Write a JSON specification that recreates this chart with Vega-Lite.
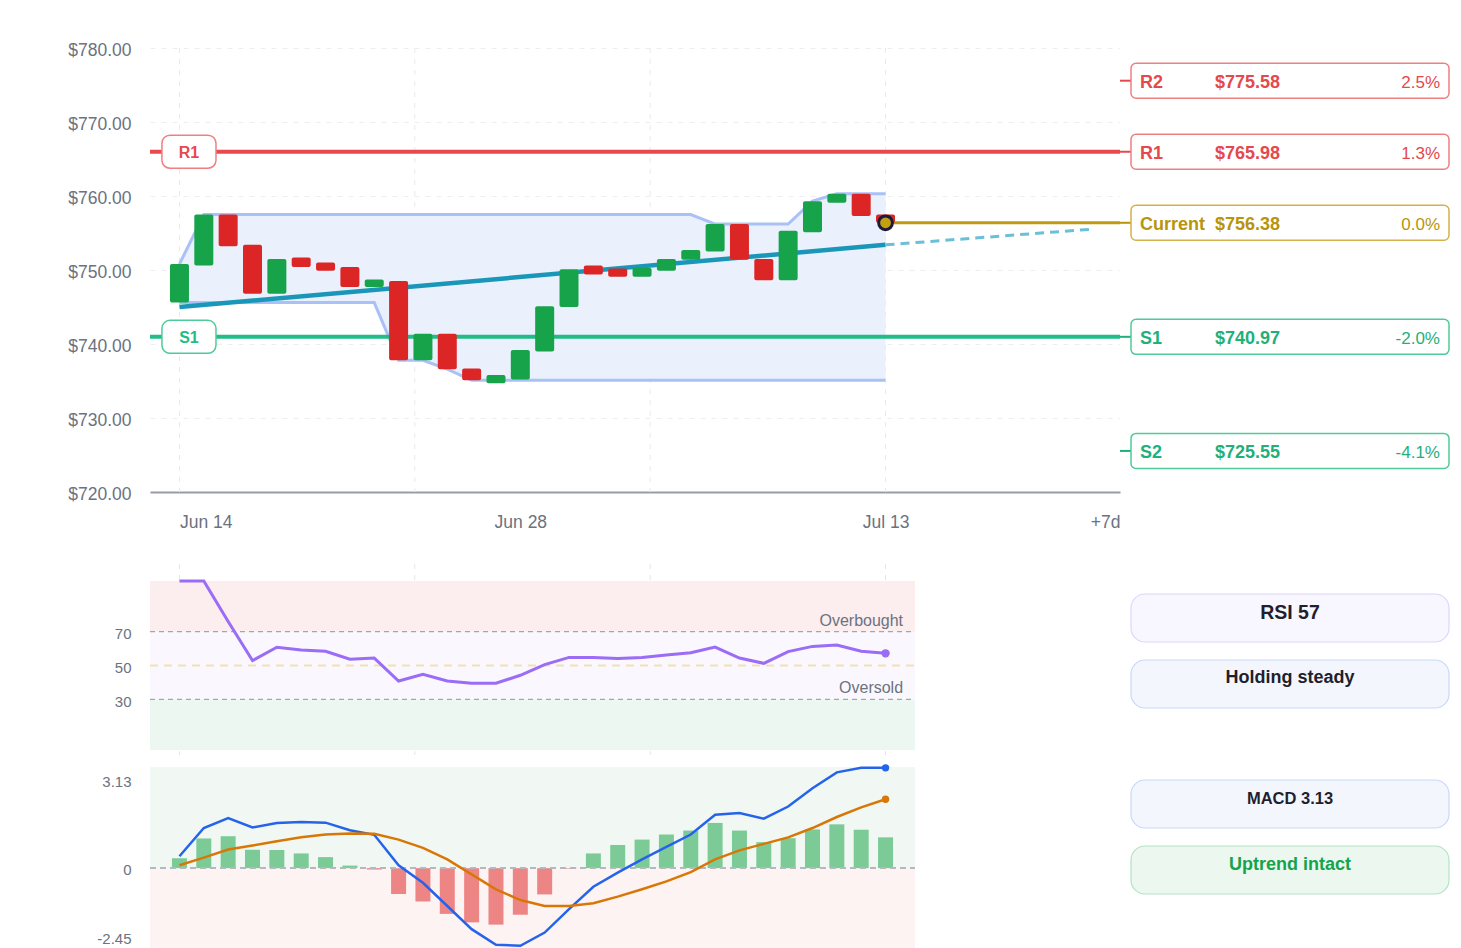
{
  "$schema": "https://vega.github.io/schema/vega-lite/v6.json",
  "padding": {"left": 67, "top": 41, "right": 0, "bottom": 0},
  "config": {
    "font": "Liberation Sans",
    "view": {"stroke": null},
    "scale": {"continuousPadding": 0},
    "axis": {"labelColor": "#6b7280", "labelFont": "Liberation Sans", "domain": false, "ticks": false, "grid": false, "labelFlush": false}
  },
  "datasets": {
    "days": [
      {"day":0,"open":745.6,"close":750.8,"upper":750.8,"lower":745.6,"rsi":100,"macd":0.42,"signal":0.10,"hist":0.35},
      {"day":1,"open":750.6,"close":757.5,"upper":757.5,"lower":745.6,"rsi":100,"macd":1.42,"signal":0.37,"hist":1.05},
      {"day":2,"open":757.5,"close":753.2,"upper":757.5,"lower":745.6,"rsi":76,"macd":1.77,"signal":0.66,"hist":1.13},
      {"day":3,"open":753.4,"close":746.8,"upper":757.5,"lower":745.6,"rsi":52.9,"macd":1.44,"signal":0.80,"hist":0.65},
      {"day":4,"open":746.8,"close":751.5,"upper":757.5,"lower":745.6,"rsi":60.8,"macd":1.60,"signal":0.95,"hist":0.64},
      {"day":5,"open":751.7,"close":750.4,"upper":757.5,"lower":745.6,"rsi":59.2,"macd":1.63,"signal":1.09,"hist":0.52},
      {"day":6,"open":751.0,"close":749.9,"upper":757.5,"lower":745.6,"rsi":58.4,"macd":1.61,"signal":1.19,"hist":0.39},
      {"day":7,"open":750.4,"close":747.7,"upper":757.5,"lower":745.6,"rsi":53.7,"macd":1.34,"signal":1.23,"hist":0.09},
      {"day":8,"open":747.7,"close":748.7,"upper":757.5,"lower":745.6,"rsi":54.4,"macd":1.18,"signal":1.22,"hist":-0.05},
      {"day":9,"open":748.5,"close":737.8,"upper":757.5,"lower":737.8,"rsi":40.8,"macd":0.10,"signal":1.01,"hist":-0.92},
      {"day":10,"open":737.8,"close":741.4,"upper":757.5,"lower":737.8,"rsi":44.8,"macd":-0.52,"signal":0.72,"hist":-1.18},
      {"day":11,"open":741.4,"close":736.6,"upper":757.5,"lower":736.6,"rsi":40.8,"macd":-1.34,"signal":0.31,"hist":-1.62},
      {"day":12,"open":736.7,"close":735.1,"upper":757.5,"lower":735.1,"rsi":39.5,"macd":-2.16,"signal":-0.22,"hist":-1.92},
      {"day":13,"open":734.7,"close":735.8,"upper":757.5,"lower":735.1,"rsi":39.5,"macd":-2.71,"signal":-0.75,"hist":-2.0},
      {"day":14,"open":735.2,"close":739.2,"upper":757.5,"lower":735.1,"rsi":44.2,"macd":-2.75,"signal":-1.13,"hist":-1.65},
      {"day":15,"open":739.0,"close":745.1,"upper":757.5,"lower":735.1,"rsi":50.5,"macd":-2.28,"signal":-1.34,"hist":-0.93},
      {"day":16,"open":745.0,"close":750.1,"upper":757.5,"lower":735.1,"rsi":54.8,"macd":-1.45,"signal":-1.34,"hist":-0.02},
      {"day":17,"open":750.6,"close":749.4,"upper":757.5,"lower":735.1,"rsi":54.8,"macd":-0.66,"signal":-1.24,"hist":0.52},
      {"day":18,"open":750.2,"close":749.1,"upper":757.5,"lower":735.1,"rsi":54.2,"macd":-0.16,"signal":-1.01,"hist":0.82},
      {"day":19,"open":749.1,"close":750.3,"upper":757.5,"lower":735.1,"rsi":54.8,"macd":0.31,"signal":-0.75,"hist":1.01},
      {"day":20,"open":749.9,"close":751.5,"upper":757.5,"lower":735.1,"rsi":56.2,"macd":0.75,"signal":-0.47,"hist":1.19},
      {"day":21,"open":751.4,"close":752.7,"upper":757.5,"lower":735.1,"rsi":57.6,"macd":1.19,"signal":-0.14,"hist":1.33},
      {"day":22,"open":752.5,"close":756.2,"upper":756.2,"lower":735.1,"rsi":60.9,"macd":1.89,"signal":0.31,"hist":1.60},
      {"day":23,"open":756.2,"close":751.4,"upper":756.2,"lower":735.1,"rsi":54.4,"macd":1.95,"signal":0.63,"hist":1.33},
      {"day":24,"open":751.5,"close":748.6,"upper":756.2,"lower":735.1,"rsi":51.3,"macd":1.75,"signal":0.86,"hist":0.92},
      {"day":25,"open":748.6,"close":755.3,"upper":756.2,"lower":735.1,"rsi":58.2,"macd":2.18,"signal":1.09,"hist":1.06},
      {"day":26,"open":755.1,"close":759.3,"upper":759.3,"lower":735.1,"rsi":61.3,"macd":2.83,"signal":1.42,"hist":1.37},
      {"day":27,"open":759.1,"close":760.3,"upper":760.3,"lower":735.1,"rsi":62.1,"macd":3.39,"signal":1.81,"hist":1.55},
      {"day":28,"open":760.3,"close":757.3,"upper":760.3,"lower":735.1,"rsi":58.4,"macd":3.55,"signal":2.15,"hist":1.36},
      {"day":29,"open":757.5,"close":756.38,"upper":760.3,"lower":735.1,"rsi":57.2,"macd":3.55,"signal":2.44,"hist":1.09}
    ],
    "levels": [
      {"label":"R2","price":775.58,"pct":"2.5%","kind":"resistance"},
      {"label":"R1","price":765.98,"pct":"1.3%","kind":"resistance"},
      {"label":"Current","price":756.38,"pct":"0.0%","kind":"current"},
      {"label":"S1","price":740.97,"pct":"-2.0%","kind":"support"},
      {"label":"S2","price":725.55,"pct":"-4.1%","kind":"support"}
    ],
    "trend": [
      {"day":0,"price":745.0,"seg":"fit"},
      {"day":29,"price":753.4,"seg":"fit"},
      {"day":29,"price":753.4,"seg":"projection"},
      {"day":37.4,"price":755.5,"seg":"projection"}
    ],
    "grid": [{"day":0},{"day":9.667},{"day":19.333},{"day":29}],
    "rsiZones": [
      {"lo":70,"hi":100,"zone":"overbought"},
      {"lo":30,"hi":70,"zone":"neutral"},
      {"lo":0,"hi":30,"zone":"oversold"}
    ],
    "rsiLines": [
      {"v":70,"name":"Overbought","kind":"bound"},
      {"v":50,"name":"Midline","kind":"mid"},
      {"v":30,"name":"Oversold","kind":"bound"}
    ],
    "macdZones": [
      {"lo":0,"hi":3.58,"zone":"positive"},
      {"lo":-3.5,"hi":0,"zone":"negative"}
    ],
    "cards": [
      {"panel":"rsi","text":"RSI 57","role":"value","tone":"violet"},
      {"panel":"rsi","text":"Holding steady","role":"status","tone":"blue"},
      {"panel":"macd","text":"MACD 3.13","role":"value","tone":"blue"},
      {"panel":"macd","text":"Uptrend intact","role":"status","tone":"green"}
    ]
  },
  "columns": 2,
  "bounds": "flush",
  "spacing": {"row": 17, "column": 0},
  "resolve": {"scale": {"color": "independent", "fill": "independent", "stroke": "independent", "size": "independent"}},
  "concat": [
    {
      "width": 970,
      "height": 444,
      "data": {"name": "days"},
      "layer": [
        {
          "data": {"name": "grid"},
          "mark": {"type": "rule", "stroke": "#e8eaee", "strokeDash": [5, 6], "strokeWidth": 1},
          "encoding": {
            "x": {"field": "day", "type": "quantitative", "title": null,
              "scale": {"domain": [-1.21, 38.63], "nice": false, "zero": false},
              "axis": {
                "values": [0, 14, 29, 38.63],
                "labelExpr": "datum.value < 1 ? 'Jun 14' : datum.value < 20 ? 'Jun 28' : datum.value < 30 ? 'Jul 13' : '+7d'",
                "labelAlign": {"condition": [{"test": "datum.value < 1", "value": "left"}, {"test": "datum.value > 35", "value": "right"}], "value": "center"},
                "labelFlush": false,
                "domain": true, "domainColor": "#979ca5", "domainWidth": 2,
                "labelFontSize": 17.5, "labelPadding": 21, "title": null
              }
            }
          }
        },
        {
          "mark": {"type": "area", "color": "#eaf0fc", "opacity": 1},
          "encoding": {
            "x": {"field": "day", "type": "quantitative", "title": null},
            "y": {"field": "upper", "type": "quantitative", "title": null,
              "scale": {"domain": [720, 780], "nice": false, "zero": false},
              "axis": {"values": [720, 730, 740, 750, 760, 770, 780], "format": "$,.2f", "grid": true, "gridDash": [5, 6], "gridColor": "#eceef1", "labelFontSize": 17.5, "labelPadding": 19, "labelOffset": 2, "labelFlush": false, "title": null}
            },
            "y2": {"field": "lower"}
          }
        },
        {
          "mark": {"type": "line", "color": "#a9c1f6", "strokeWidth": 3},
          "encoding": {
            "x": {"field": "day", "type": "quantitative", "title": null},
            "y": {"field": "upper", "type": "quantitative", "title": null}
          }
        },
        {
          "mark": {"type": "line", "color": "#a9c1f6", "strokeWidth": 3},
          "encoding": {
            "x": {"field": "day", "type": "quantitative", "title": null},
            "y": {"field": "lower", "type": "quantitative", "title": null}
          }
        },
        {
          "data": {"name": "levels"},
          "transform": [{"filter": "datum.label == 'R1' || datum.label == 'S1'"}],
          "mark": {"type": "rule", "strokeWidth": 4},
          "encoding": {
            "y": {"field": "price", "type": "quantitative", "title": null},
            "color": {"field": "kind", "type": "nominal", "legend": null,
              "scale": {"domain": ["resistance", "current", "support"], "range": ["#e8494e", "#bf9a12", "#22bd87"]}}
          }
        },
        {
          "data": {"name": "levels"},
          "transform": [{"filter": "datum.label == 'Current'"}],
          "mark": {"type": "rule", "strokeWidth": 3, "color": "#bf9a12"},
          "encoding": {
            "x": {"datum": 29},
            "x2": {"datum": 38.63},
            "y": {"field": "price", "type": "quantitative", "title": null}
          }
        },
        {
          "data": {"name": "trend"},
          "transform": [{"filter": "datum.seg == 'fit'"}],
          "mark": {"type": "line", "color": "#1a97b8", "strokeWidth": 4.5},
          "encoding": {
            "x": {"field": "day", "type": "quantitative", "title": null},
            "y": {"field": "price", "type": "quantitative", "title": null}
          }
        },
        {
          "data": {"name": "trend"},
          "transform": [{"filter": "datum.seg == 'projection'"}],
          "mark": {"type": "line", "color": "#6cbfd8", "strokeWidth": 3, "strokeDash": [9, 6]},
          "encoding": {
            "x": {"field": "day", "type": "quantitative", "title": null},
            "y": {"field": "price", "type": "quantitative", "title": null}
          }
        },
        {
          "mark": {"type": "bar", "orient": "vertical", "size": 19, "cornerRadius": 2},
          "encoding": {
            "x": {"field": "day", "type": "quantitative", "title": null},
            "y": {"field": "open", "type": "quantitative", "title": null},
            "y2": {"field": "close"},
            "color": {"condition": {"test": "datum.close >= datum.open", "value": "#17a34a"}, "value": "#dc2626"}
          }
        },
        {
          "transform": [{"filter": "datum.day == 29"}],
          "mark": {"type": "point", "filled": true, "fill": "#c49f12", "stroke": "#1e1b3a", "strokeWidth": 3, "size": 190, "opacity": 1},
          "encoding": {
            "x": {"field": "day", "type": "quantitative", "title": null},
            "y": {"field": "close", "type": "quantitative", "title": null}
          }
        },
        {
          "data": {"name": "levels"},
          "transform": [{"filter": "datum.label == 'R1' || datum.label == 'S1'"}],
          "mark": {"type": "bar", "orient": "horizontal", "size": 33, "cornerRadius": 8, "fill": "white", "strokeWidth": 1.5},
          "encoding": {
            "x": {"datum": -0.72},
            "x2": {"datum": 1.5},
            "y": {"field": "price", "type": "quantitative", "title": null},
            "stroke": {"field": "kind", "type": "nominal", "legend": null,
              "scale": {"domain": ["resistance", "current", "support"], "range": ["#f07f82", "#d4b24a", "#4fcb9a"]}}
          }
        },
        {
          "data": {"name": "levels"},
          "transform": [{"filter": "datum.label == 'R1' || datum.label == 'S1'"}],
          "mark": {"type": "text", "fontWeight": "bold", "fontSize": 16, "align": "center", "baseline": "middle", "dy": 1.5},
          "encoding": {
            "x": {"datum": 0.39},
            "y": {"field": "price", "type": "quantitative", "title": null},
            "text": {"field": "label"},
            "color": {"field": "kind", "type": "nominal", "legend": null}
          }
        }
      ]
    },
    {
      "width": 330,
      "height": 444,
      "data": {"name": "levels"},
      "layer": [
        {
          "mark": {"type": "rule", "strokeWidth": 2},
          "encoding": {
            "x": {"datum": -10, "scale": {"domain": [-10, 320], "nice": false, "zero": false}, "axis": null},
            "x2": {"datum": 1},
            "y": {"field": "price", "type": "quantitative", "scale": {"domain": [720, 780], "nice": false, "zero": false}, "axis": null},
            "color": {"field": "kind", "type": "nominal", "legend": null,
              "scale": {"domain": ["resistance", "current", "support"], "range": ["#e5484d", "#b8940c", "#1fb07b"]}}
          }
        },
        {
          "mark": {"type": "bar", "orient": "horizontal", "size": 35, "cornerRadius": 5, "fill": "white", "strokeWidth": 1.5},
          "encoding": {
            "x": {"datum": 1},
            "x2": {"datum": 319},
            "y": {"field": "price", "type": "quantitative"},
            "stroke": {"field": "kind", "type": "nominal", "legend": null,
              "scale": {"domain": ["resistance", "current", "support"], "range": ["#f07f82", "#d4b24a", "#4fcb9a"]}}
          }
        },
        {
          "mark": {"type": "text", "align": "left", "baseline": "middle", "fontWeight": "bold", "fontSize": 18, "dy": 2},
          "encoding": {
            "x": {"datum": 10},
            "y": {"field": "price", "type": "quantitative"},
            "text": {"field": "label"},
            "color": {"field": "kind", "type": "nominal", "legend": null}
          }
        },
        {
          "mark": {"type": "text", "align": "left", "baseline": "middle", "fontWeight": "bold", "fontSize": 18, "dy": 2},
          "encoding": {
            "x": {"datum": 85},
            "y": {"field": "price", "type": "quantitative"},
            "text": {"field": "price", "type": "quantitative", "format": "$,.2f"},
            "color": {"field": "kind", "type": "nominal", "legend": null}
          }
        },
        {
          "mark": {"type": "text", "align": "right", "baseline": "middle", "fontSize": 17, "dy": 2},
          "encoding": {
            "x": {"datum": 310},
            "y": {"field": "price", "type": "quantitative"},
            "text": {"field": "pct"},
            "color": {"field": "kind", "type": "nominal", "legend": null}
          }
        }
      ]
    },
    {
      "width": 765,
      "height": 241,
      "data": {"name": "days"},
      "layer": [
        {
          "data": {"name": "grid"},
          "mark": {"type": "rule", "stroke": "#e3e6eb", "strokeDash": [5, 6], "strokeWidth": 1},
          "encoding": {
            "x": {"field": "day", "type": "quantitative", "scale": {"domain": [-1.21, 30.21], "nice": false, "zero": false}, "axis": null},
            "y": {"datum": 110, "scale": {"domain": [0, 142.6], "nice": false, "zero": false},
              "axis": {"values": [30, 50, 70], "labelFontSize": 15, "labelPadding": 19, "labelOffset": 2, "title": null}},
            "y2": {"datum": -3}
          }
        },
        {
          "data": {"name": "rsiZones"},
          "mark": {"type": "rect"},
          "encoding": {
            "x": {"datum": -1.21},
            "x2": {"datum": 30.21},
            "y": {"field": "lo", "type": "quantitative", "title": null},
            "y2": {"field": "hi"},
            "fill": {"field": "zone", "type": "nominal", "legend": null,
              "scale": {"domain": ["overbought", "neutral", "oversold"], "range": ["#fcedee", "#faf8fe", "#edf7f1"]}}
          }
        },
        {
          "data": {"name": "rsiLines"},
          "transform": [{"filter": "datum.kind == 'mid'"}],
          "mark": {"type": "rule", "stroke": "#efe1b6", "strokeDash": [8, 6], "strokeWidth": 2},
          "encoding": {
            "x": {"datum": -1.21},
            "x2": {"datum": 30.21},
            "y": {"field": "v", "type": "quantitative", "title": null}
          }
        },
        {
          "data": {"name": "rsiLines"},
          "transform": [{"filter": "datum.kind == 'bound'"}],
          "mark": {"type": "rule", "stroke": "#a3a6ad", "strokeDash": [5, 4], "strokeWidth": 1.3},
          "encoding": {
            "x": {"datum": -1.21},
            "x2": {"datum": 30.21},
            "y": {"field": "v", "type": "quantitative", "title": null}
          }
        },
        {
          "data": {"name": "rsiLines"},
          "transform": [{"filter": "datum.kind == 'bound'"}],
          "mark": {"type": "text", "align": "right", "baseline": "middle", "fontSize": 16, "color": "#6b7280", "dy": -11},
          "encoding": {
            "x": {"datum": 29.72},
            "y": {"field": "v", "type": "quantitative", "title": null},
            "text": {"field": "name"}
          }
        },
        {
          "mark": {"type": "line", "color": "#9b6cf5", "strokeWidth": 3},
          "encoding": {
            "x": {"field": "day", "type": "quantitative"},
            "y": {"field": "rsi", "type": "quantitative", "title": null}
          }
        },
        {
          "transform": [{"filter": "datum.day == 29"}],
          "mark": {"type": "point", "filled": true, "color": "#9b6cf5", "size": 70, "opacity": 1},
          "encoding": {
            "x": {"field": "day", "type": "quantitative"},
            "y": {"field": "rsi", "type": "quantitative", "title": null}
          }
        }
      ]
    },
    {
      "width": 330,
      "height": 241,
      "data": {"name": "cards"},
      "transform": [{"filter": "datum.panel == 'rsi'"}],
      "layer": [
        {
          "mark": {"type": "bar", "orient": "horizontal", "cornerRadius": 14, "strokeWidth": 1.2},
          "encoding": {
            "x": {"datum": 1, "scale": {"domain": [-10, 320], "nice": false, "zero": false}, "axis": null},
            "x2": {"datum": 319},
            "y": {"field": "text", "type": "nominal", "sort": null, "axis": null,
              "scale": {"range": [85, 199], "paddingInner": 0.2727, "paddingOuter": 0}},
            "fill": {"field": "tone", "type": "nominal", "legend": null,
              "scale": {"domain": ["violet", "blue", "green"], "range": ["#f8f6fe", "#f3f6fd", "#ecf7f0"]}},
            "stroke": {"field": "tone", "type": "nominal", "legend": null,
              "scale": {"domain": ["violet", "blue", "green"], "range": ["#ddd6fe", "#c9d8fb", "#b3e3c5"]}}
          }
        },
        {
          "mark": {"type": "text", "align": "center", "baseline": "middle", "fontWeight": "bold", "dy": -5.5},
          "encoding": {
            "x": {"datum": 160},
            "y": {"field": "text", "type": "nominal", "sort": null},
            "text": {"field": "text"},
            "size": {"condition": {"test": "datum.role == 'value'", "value": 19.5}, "value": 18},
            "color": {"field": "tone", "type": "nominal", "legend": null,
              "scale": {"domain": ["violet", "blue", "green"], "range": ["#1f1f2e", "#1f1f2e", "#16a34a"]}}
          }
        }
      ]
    },
    {
      "width": 765,
      "height": 200,
      "data": {"name": "days"},
      "layer": [
        {
          "data": {"name": "macdZones"},
          "mark": {"type": "rect"},
          "encoding": {
            "x": {"datum": -1.21, "scale": {"domain": [-1.21, 30.21], "nice": false, "zero": false}, "axis": null},
            "x2": {"datum": 30.21},
            "y": {"field": "lo", "type": "quantitative", "title": null,
              "scale": {"domain": [-3.5, 3.58], "nice": false, "zero": false},
              "axis": {"values": [-2.45, 0, 3.13], "labelExpr": "replace(format(datum.value, '.2~f'), '\u2212', '-')", "labelFontSize": 15, "labelPadding": 19, "labelOffset": 1.5, "title": null}},
            "y2": {"field": "hi"},
            "fill": {"field": "zone", "type": "nominal", "legend": null,
              "scale": {"domain": ["positive", "negative"], "range": ["#f1f8f4", "#fdf3f3"]}}
          }
        },
        {
          "mark": {"type": "bar", "orient": "vertical", "size": 15},
          "encoding": {
            "x": {"field": "day", "type": "quantitative"},
            "y": {"field": "hist", "type": "quantitative", "title": null},
            "y2": {"datum": 0},
            "color": {"condition": {"test": "datum.hist >= 0", "value": "#7ccb97"}, "value": "#ee8585"}
          }
        },
        {
          "mark": {"type": "rule", "stroke": "#b5b8be", "strokeDash": [6, 4], "strokeWidth": 1.5},
          "encoding": {
            "x": {"datum": -1.21},
            "x2": {"datum": 30.21},
            "y": {"datum": 0}
          }
        },
        {
          "mark": {"type": "line", "color": "#2563eb", "strokeWidth": 2.5},
          "encoding": {
            "x": {"field": "day", "type": "quantitative"},
            "y": {"field": "macd", "type": "quantitative", "title": null}
          }
        },
        {
          "mark": {"type": "line", "color": "#d97706", "strokeWidth": 2.5},
          "encoding": {
            "x": {"field": "day", "type": "quantitative"},
            "y": {"field": "signal", "type": "quantitative", "title": null}
          }
        },
        {
          "transform": [{"filter": "datum.day == 29"}],
          "mark": {"type": "point", "filled": true, "color": "#2563eb", "size": 55, "opacity": 1},
          "encoding": {
            "x": {"field": "day", "type": "quantitative"},
            "y": {"field": "macd", "type": "quantitative", "title": null}
          }
        },
        {
          "transform": [{"filter": "datum.day == 29"}],
          "mark": {"type": "point", "filled": true, "color": "#d97706", "size": 55, "opacity": 1},
          "encoding": {
            "x": {"field": "day", "type": "quantitative"},
            "y": {"field": "signal", "type": "quantitative", "title": null}
          }
        }
      ]
    },
    {
      "width": 330,
      "height": 200,
      "data": {"name": "cards"},
      "transform": [{"filter": "datum.panel == 'macd'"}],
      "layer": [
        {
          "mark": {"type": "bar", "orient": "horizontal", "cornerRadius": 14, "strokeWidth": 1.2},
          "encoding": {
            "x": {"datum": 1, "scale": {"domain": [-10, 320], "nice": false, "zero": false}, "axis": null},
            "x2": {"datum": 319},
            "y": {"field": "text", "type": "nominal", "sort": null, "axis": null,
              "scale": {"range": [13, 127], "paddingInner": 0.2727, "paddingOuter": 0}},
            "fill": {"field": "tone", "type": "nominal", "legend": null,
              "scale": {"domain": ["violet", "blue", "green"], "range": ["#f8f6fe", "#f3f6fd", "#ecf7f0"]}},
            "stroke": {"field": "tone", "type": "nominal", "legend": null,
              "scale": {"domain": ["violet", "blue", "green"], "range": ["#ddd6fe", "#c9d8fb", "#b3e3c5"]}}
          }
        },
        {
          "mark": {"type": "text", "align": "center", "baseline": "middle", "fontWeight": "bold", "dy": -5},
          "encoding": {
            "x": {"datum": 160},
            "y": {"field": "text", "type": "nominal", "sort": null},
            "text": {"field": "text"},
            "size": {"condition": {"test": "datum.role == 'value'", "value": 16.5}, "value": 18},
            "color": {"field": "tone", "type": "nominal", "legend": null,
              "scale": {"domain": ["violet", "blue", "green"], "range": ["#1f1f2e", "#1f1f2e", "#16a34a"]}}
          }
        }
      ]
    }
  ]
}
